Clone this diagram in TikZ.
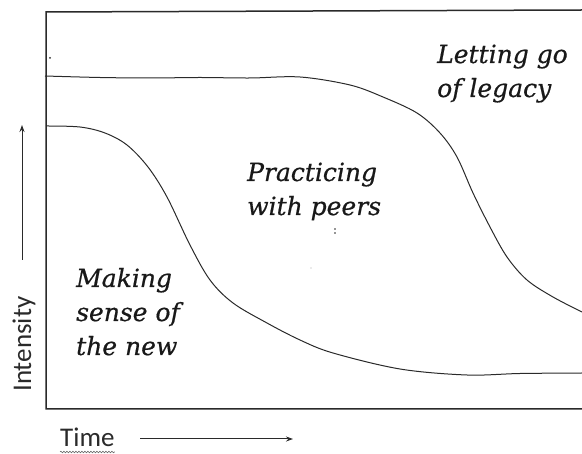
\documentclass[tikz,border=0pt]{standalone}
\usepackage{fontspec}
\setsansfont{Carlito}
\newfontfamily\geo{DejaVu Serif}[FakeBold=0.6]
\usetikzlibrary{decorations.pathmorphing,arrows.meta}
\definecolor{ink}{HTML}{2A2A2A}
\tikzset{
  frame/.style={draw=ink, line width=1.5pt},
  curve/.style={draw=ink, line width=1pt, smooth, tension=0.55},
  phase/.style={font=\geo\itshape\fontsize{25}{34}\selectfont, text=black!90, align=left, inner sep=0pt, anchor=base west},
  axislabel/.style={font=\sffamily\fontsize{27}{30}\selectfont, text=ink, inner sep=0pt},
  axisarrow/.style={draw=ink, line width=1pt, -{Stealth[length=7pt,width=5pt]}},
}
\begin{document}
\begin{tikzpicture}[x=1pt,y=-1pt]
\useasboundingbox (0,0) rectangle (582,454);
% frame
\coordinate (tl) at (46,12);
\coordinate (tr) at (582,10);
\coordinate (bl) at (46,409);
\coordinate (br) at (582,409);
\draw[frame] (tr) -- (tl) -- (bl) -- (br);
% curves
\draw[curve] plot coordinates {(45,76) (100,77.5) (150,78) (200,77.5) (250,78) (300,77) (350,85) (383,97) (417,113) (440,133) (457,157) (473,193) (490,227) (507,257) (527,280) (553,297) (582,312)};
\draw[curve] plot coordinates {(46,126) (80,127) (105,133) (127,145) (148,167) (167,197) (190,245) (210,280) (233,303) (267,323) (300,340) (333,353) (400,369) (467,375) (520,373.5) (582,373)};
% labels
\node[phase] (letgo) at (437,97) {Letting go\\of legacy};
\node[phase] (practice) at (247,215) {Practicing\\with peers};
\node[phase] (making) at (76,355) {Making\\sense of\\the new};
% axes
\node[axislabel, rotate=90, anchor=base west] (intensity) at (31,392) {Intensity};
\node[axislabel, anchor=base west] (time) at (60,447) {Time};
\coordinate (ya) at (22,260);
\coordinate (yb) at (22,125);
\coordinate (xa) at (140,439);
\coordinate (xb) at (293,439);
\draw[axisarrow] (ya) -- (yb);
\draw[axisarrow] (xa) -- (xb);
\draw[ink!70, line width=0.6pt, decorate, decoration={snake, segment length=3pt, amplitude=0.8pt}] ([yshift=-5pt]time.base west) -- ([yshift=-5pt]time.base east);
% specks
\fill[ink] (50,58) circle (1pt);
\fill[ink] (335,229) circle (0.8pt);
\fill[ink] (335,233) circle (0.8pt);
\fill[ink!40] (311,268) circle (0.6pt);
\end{tikzpicture}
\end{document}
